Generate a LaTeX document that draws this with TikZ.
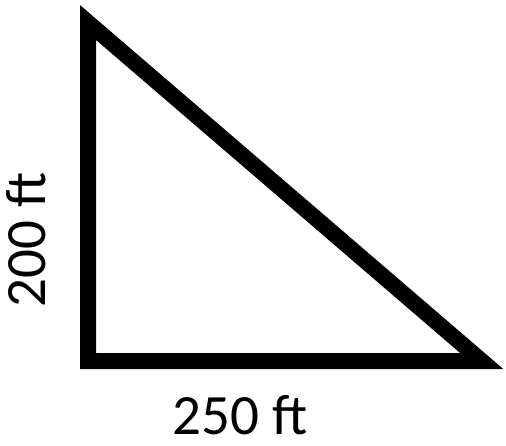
\documentclass[tikz,border=0pt]{standalone}
\usepackage{fontspec}
\setmainfont{Carlito}
\begin{document}
\begin{tikzpicture}[
  x=1pt, y=-1pt,
  side/.style={draw=black, line width=16pt, line join=miter},
  dimlabel/.style={font=\fontsize{57}{64}\selectfont, inner sep=0pt, anchor=base},
]
\useasboundingbox (0,0) rectangle (506,445);
% vertices
\coordinate (apex) at (88,22.5);
\coordinate (corner) at (88,361);
\coordinate (tip) at (481.7,361);
% triangle
\draw[side] (apex) -- (corner) -- (tip) -- cycle;
% labels
\node[dimlabel] (base) at (240,434) {250 ft};
\node[dimlabel, rotate=90] (height) at (45,240) {200 ft};
\end{tikzpicture}
\end{document}
